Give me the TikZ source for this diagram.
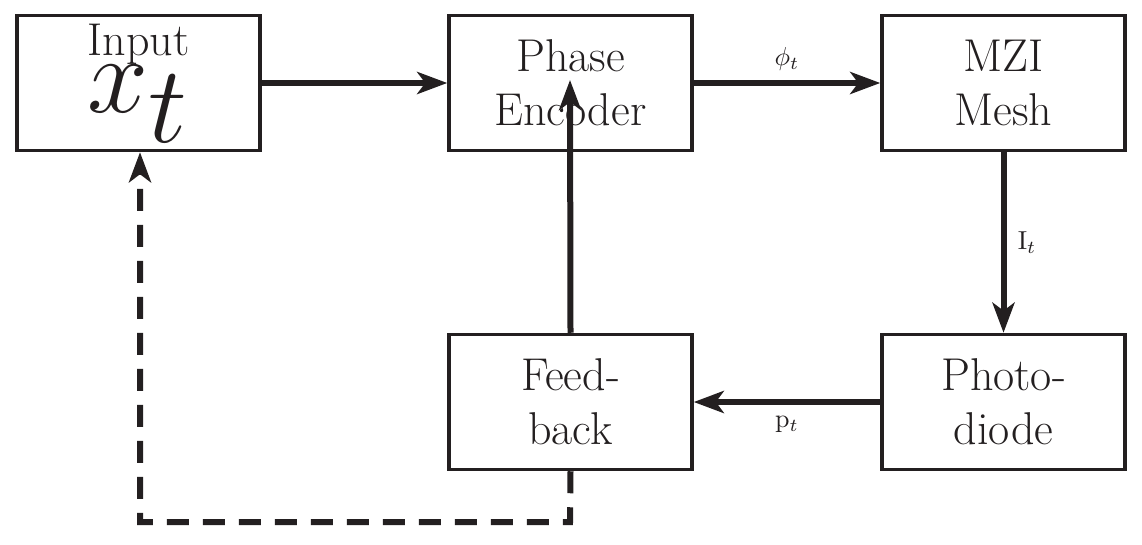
\documentclass[tikz,border=0pt]{standalone}
\usetikzlibrary{arrows.meta}
\definecolor{ink}{HTML}{231F20}
\begin{document}
\begin{tikzpicture}[x=1pt,y=-1pt,color=ink,
  box/.style={draw,line width=3.5pt,minimum width=243pt,minimum height=135pt,align=center,font=\fontsize{46}{54}\selectfont,inner sep=0pt},
  con/.style={line width=6pt,-{Stealth[length=30pt,width=22pt,inset=8pt]}},
  lab/.style={}]
\useasboundingbox (0,0) rectangle (1142,545);
\node[box] (in) at (138.5,83) {Input\\\scalebox{4.4}{$x_t$}};
\node[box] (pe) at (570.5,83) {Phase\\Encoder};
\node[box] (mzi) at (1003.5,83) {MZI\\Mesh};
\node[box] (fb) at (570.5,402) {Feed-\\back};
\node[box] (pd) at (1003.5,402) {Photo-\\diode};
\draw[con] (in) -- (pe);
\draw[con] (pe) -- node[lab,above=6pt]{\scalebox{2.6}{$\phi_t$}} (mzi);
\draw[con] (mzi) -- node[lab,right=8pt]{\scalebox{2.6}{$\mathrm{I}_t$}} (pd);
\draw[con] (pd) -- node[lab,below=8pt]{\scalebox{2.6}{$\mathrm{p}_t$}} (fb);
\coordinate (ft) at (570,80);
\draw[con] (fb.north) -- (ft);
\coordinate (c1) at (570,522);
\coordinate (c2) at (140,522);
\draw[con,dashed,dash pattern=on 22pt off 14pt] (fb.south) -- (c1) -- (c2) -- (c2 |- in.south);
\end{tikzpicture}
\end{document}
